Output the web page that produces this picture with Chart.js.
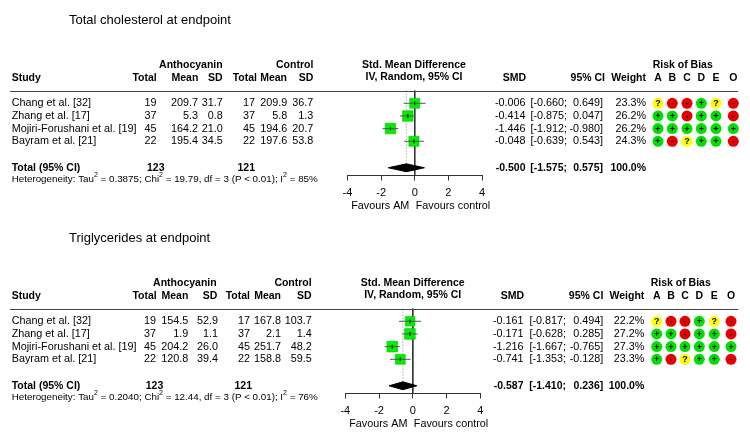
<!DOCTYPE html>
<html>
<head>
<meta charset="utf-8">
<script src="https://cdn.jsdelivr.net/npm/chart.js@4.4.1/dist/chart.umd.min.js"></script>
<style>
  html, body { margin: 0; padding: 0; background: #fff; }
  #wrap { position: relative; width: 750px; height: 447px; overflow: hidden; }
  canvas { position: absolute; left: 0; }
</style>
</head>
<body>
<div id="wrap">
  <canvas id="tc" width="750" height="218" style="top:0"></canvas>
  <canvas id="tg" width="750" height="229" style="top:218px"></canvas>
</div>
<script>
// shared
const studies = ['Chang et al. [32]', 'Zhang et al. [17]', 'Mojiri-Forushani et al. [19]', 'Bayram et al. [21]']
const robDomains = ['A', 'B', 'C', 'D', 'E', 'O']
const robJudgements = [
  ['?', '-', '-', '+', '?', '-'],
  ['+', '+', '-', '+', '+', '-'],
  ['+', '+', '+', '+', '+', '+'],
  ['+', '-', '?', '+', '+', '-']
]
const xTicks = [-4, -2, 0, 2, 4]

// Total cholesterol at endpoint
const tcAmN = [19, 37, 45, 22]
const tcAmMean = [209.7, 5.3, 164.2, 195.4]
const tcAmSd = [31.7, 0.8, 21.0, 34.5]
const tcCtrlN = [17, 37, 45, 22]
const tcCtrlMean = [209.9, 5.8, 194.6, 197.6]
const tcCtrlSd = [36.7, 1.3, 20.7, 53.8]
const tcSmd = [-0.006, -0.414, -1.446, -0.048]
const tcLow = [-0.660, -0.875, -1.912, -0.639]
const tcHigh = [0.649, 0.047, -0.980, 0.543]
const tcWeight = [23.3, 26.2, 26.2, 24.3]
const tcPooled = [-0.500, -1.575, 0.575]
const tcTotalN = [123, 121]
const tcHet = ['0.3875', '19.79', '3', '< 0.01', '85%']

// Triglycerides at endpoint
const tgAmN = [19, 37, 45, 22]
const tgAmMean = [154.5, 1.9, 204.2, 120.8]
const tgAmSd = [52.9, 1.1, 26.0, 39.4]
const tgCtrlN = [17, 37, 45, 22]
const tgCtrlMean = [167.8, 2.1, 251.7, 158.8]
const tgCtrlSd = [103.7, 1.4, 48.2, 59.5]
const tgSmd = [-0.161, -0.171, -1.216, -0.741]
const tgLow = [-0.817, -0.628, -1.667, -1.353]
const tgHigh = [0.494, 0.285, -0.765, -0.128]
const tgWeight = [22.2, 27.2, 27.3, 23.3]
const tgPooled = [-0.587, -1.410, 0.236]
const tgTotalN = [123, 121]
const tgHet = ['0.2040', '12.44', '3', '< 0.01', '76%']

const FONT = '"Liberation Sans", Arial, sans-serif'
Chart.defaults.font.family = FONT

// row positions (y scale units, reversed)
const ROW_TITLE = -5.57, ROW_HEAD1 = -2, ROW_HEAD2 = -1, ROW_TOTAL = 6.09, ROW_HET = 6.98
const Y_MIN = -7.15, Y_AXIS = 6.7
const AXIS_TOP = 175.5
const BOLD = 10.5
const REG = 10.8

const robColors = { '+': '#00e000', '-': '#e60000', '?': '#ffff00' }

function tablePlugin(d, L) {
  return {
    id: 'forestTable',
    afterDraw(chart) {
      const ctx = chart.ctx
      const xs = chart.scales.x
      const Y = r => chart.scales.y.getPixelForValue(r)
      const txt = (s, px, py, align, bold, size) => {
        ctx.font = (bold ? 'bold ' : '') + (size || (bold ? BOLD : REG)) + 'px ' + FONT
        ctx.textAlign = align || 'left'
        ctx.fillText(s, px, py)
      }
      ctx.save()
      ctx.fillStyle = '#000'
      ctx.textBaseline = 'middle'

      txt(d.title, 69, Y(ROW_TITLE), 'left', false, 13)

      // headers
      txt('Anthocyanin', L.anth, Y(ROW_HEAD1), 'right', true)
      txt('Control', L.ctrl, Y(ROW_HEAD1), 'right', true)
      txt('Std. Mean Difference', L.smdC, Y(ROW_HEAD1), 'center', true)
      txt('Risk of Bias', L.robC, Y(ROW_HEAD1), 'center', true)
      const h2 = Y(ROW_HEAD2)
      txt('Study', 11.7, h2, 'left', true)
      txt('Total', L.hn1, h2, 'right', true)
      txt('Mean', L.hm1, h2, 'right', true)
      txt('SD', L.hs1, h2, 'right', true)
      txt('Total', L.hn2, h2, 'right', true)
      txt('Mean', L.hm2, h2, 'right', true)
      txt('SD', L.hs2, h2, 'right', true)
      txt('IV, Random, 95% CI', L.smdC, Y(-1.1), 'center', true)
      txt('SMD', L.smdH, h2, 'right', true)
      txt('95% CI', L.ciH, h2, 'right', true)
      txt('Weight', L.wH, h2, 'right', true)
      robDomains.forEach((dm, j) => txt(dm, L.rob[j], h2, 'center', true))

      ctx.strokeStyle = '#444'
      ctx.lineWidth = 1
      ctx.beginPath()
      const ly = Math.round(Y(0)) + 0.5
      ctx.moveTo(10, ly)
      ctx.lineTo(L.lineR, ly)
      ctx.stroke()

      // study rows
      studies.forEach((s, i) => {
        const py = Y(i + 1)
        txt(s, 11.7, py)
        txt(String(d.amN[i]), L.n1, py, 'right')
        txt(d.amMean[i].toFixed(1), L.m1, py, 'right')
        txt(d.amSd[i].toFixed(1), L.s1, py, 'right')
        txt(String(d.ctrlN[i]), L.n2, py, 'right')
        txt(d.ctrlMean[i].toFixed(1), L.m2, py, 'right')
        txt(d.ctrlSd[i].toFixed(1), L.s2, py, 'right')
        txt(d.smd[i].toFixed(3), L.smd, py, 'right')
        txt('[' + d.low[i].toFixed(3) + ';', L.lo, py, 'right')
        txt(d.high[i].toFixed(3) + ']', L.hi, py, 'right')
        txt(d.weight[i].toFixed(1) + '%', L.w, py, 'right')
        robJudgements[i].forEach((j, k) => {
          ctx.beginPath()
          ctx.fillStyle = robColors[j]
          ctx.arc(L.rob[k], py, 5.5, 0, Math.PI * 2)
          ctx.fill()
          ctx.fillStyle = '#000'
          txt(j, L.rob[k], py + 0.5, 'center', true, 9)
        })
      })

      // total row
      const ty = Y(ROW_TOTAL)
      txt('Total (95% CI)', 11.7, ty, 'left', true)
      txt(String(d.totalN[0]), L.tot1, ty, 'right', true)
      txt(String(d.totalN[1]), L.tot2, ty, 'right', true)
      txt(d.pooled[0].toFixed(3), L.smd, ty, 'right', true)
      txt('[' + d.pooled[1].toFixed(3) + ';', L.lo, ty, 'right', true)
      txt(d.pooled[2].toFixed(3) + ']', L.hi, ty, 'right', true)
      txt('100.0%', L.w, ty, 'right', true)

      // heterogeneity
      const hy = Y(ROW_HET)
      let hx = 11.7
      const parts = [
        ['Heterogeneity: Tau', 0], ['2', 1], [' = ' + d.het[0] + '; Chi', 0], ['2', 1],
        [' = ' + d.het[1] + ', df = ' + d.het[2] + ' (P ' + d.het[3] + '); I', 0], ['2', 1],
        [' = ' + d.het[4], 0]
      ]
      ctx.textAlign = 'left'
      parts.forEach(([s, sup]) => {
        ctx.font = (sup ? 7 : 9.8) + 'px ' + FONT
        ctx.fillText(s, hx, sup ? hy - 3.5 : hy)
        hx += ctx.measureText(s).width
      })

      // favours labels
      const x0 = xs.getPixelForValue(0)
      const fy = chart.chartArea.bottom + 30.5
      txt('Favours AM', x0 - 5.4, fy, 'right')
      txt('Favours control', x0 + 1, fy, 'left')
      ctx.restore()
    }
  }
}

function makePanel(id, d, L) {
  const canvas = document.getElementById(id)
  const axisH = canvas.height - AXIS_TOP
  const est = d.pooled[0]
  const datasets = [
    { data: [{ x: 0, y: 0 }, { x: 0, y: Y_AXIS }], borderColor: '#333', borderWidth: 1, pointRadius: 0, order: 5 },
    { data: [{ x: est, y: 0 }, { x: est, y: ROW_TOTAL - 0.3 }], borderColor: '#888', borderDash: [1, 2], borderWidth: 1, pointRadius: 0, order: 5 },
    {
      data: d.smd.map((v, i) => ({ x: v, y: i + 1 })),
      showLine: false, pointStyle: 'rect',
      pointRadius: d.weight.map(w => Math.sqrt(w) * 1.45),
      backgroundColor: '#00ee00', borderColor: '#00c800', borderWidth: 0.6, order: 3
    },
    ...d.smd.map((v, i) => ({
      data: [{ x: d.low[i], y: i + 1 }, { x: d.high[i], y: i + 1 }],
      borderColor: '#555', borderWidth: 1, pointRadius: 0, order: 2
    })),
    {
      data: d.smd.map((v, i) => ({ x: v, y: i + 1 })),
      showLine: false, pointStyle: 'line', rotation: 90, pointRadius: 2,
      borderColor: '#000', borderWidth: 1, order: 1
    },
    {
      data: [
        { x: d.pooled[1], y: ROW_TOTAL }, { x: est, y: ROW_TOTAL - 0.31 },
        { x: d.pooled[2], y: ROW_TOTAL }, { x: est, y: ROW_TOTAL + 0.31 },
        { x: d.pooled[1], y: ROW_TOTAL }
      ],
      fill: 'shape', backgroundColor: '#000', borderColor: '#000', borderWidth: 1, pointRadius: 0, order: 1
    }
  ]

  return new Chart(canvas, {
    type: 'line',
    data: { datasets },
    options: {
      responsive: false,
      animation: false,
      events: [],
      layout: { autoPadding: false, padding: { left: L.axL, right: 750 - L.axR, top: 0, bottom: 0 } },
      scales: {
        x: {
          type: 'linear', min: -4, max: 4,
          afterFit: s => { s.height = axisH },
          afterBuildTicks: s => { s.ticks = xTicks.map(v => ({ value: v })) },
          grid: { drawOnChartArea: false, drawTicks: true, tickLength: 5, color: '#333' },
          border: { display: true, color: '#333', width: 1 },
          ticks: { font: { size: 11 }, color: '#000', padding: 6, maxRotation: 0, autoSkip: false, callback: v => String(v) }
        },
        y: { type: 'linear', min: Y_MIN, max: Y_AXIS, reverse: true, display: false }
      },
      plugins: { legend: { display: false }, tooltip: { enabled: false } }
    },
    plugins: [tablePlugin(d, L)]
  })
}

makePanel('tc', {
  title: 'Total cholesterol at endpoint',
  amN: tcAmN, amMean: tcAmMean, amSd: tcAmSd,
  ctrlN: tcCtrlN, ctrlMean: tcCtrlMean, ctrlSd: tcCtrlSd,
  smd: tcSmd, low: tcLow, high: tcHigh, weight: tcWeight,
  pooled: tcPooled, totalN: tcTotalN, het: tcHet
}, {
  n1: 156.5, m1: 198, s1: 222.7, n2: 255, m2: 287.3, s2: 313.3,
  hn1: 156.7, hm1: 198.3, hs1: 222.7, hn2: 257, hm2: 287, hs2: 313.3,
  anth: 222.7, ctrl: 313.3, tot1: 164.5, tot2: 255,
  smd: 525.5, lo: 567, hi: 603, w: 646, smdH: 526, ciH: 605, wH: 646,
  rob: [658, 672.3, 687, 701.3, 716, 733.3], robC: 682.7, smdC: 414,
  lineR: 738, axL: 347.5, axR: 482
})

makePanel('tg', {
  title: 'Triglycerides at endpoint',
  amN: tgAmN, amMean: tgAmMean, amSd: tgAmSd,
  ctrlN: tgCtrlN, ctrlMean: tgCtrlMean, ctrlSd: tgCtrlSd,
  smd: tgSmd, low: tgLow, high: tgHigh, weight: tgWeight,
  pooled: tgPooled, totalN: tgTotalN, het: tgHet
}, {
  n1: 156, m1: 188.3, s1: 218, n2: 250, m2: 281, s2: 311.7,
  hn1: 156.7, hm1: 188.3, hs1: 217.3, hn2: 250, hm2: 281, hs2: 311.7,
  anth: 216.7, ctrl: 311.7, tot1: 163.3, tot2: 252,
  smd: 523.5, lo: 566, hi: 603.3, w: 644.3, smdH: 524, ciH: 603.3, wH: 644.3,
  rob: [656.7, 671, 685, 699.3, 714.3, 731], robC: 680.7, smdC: 412.7,
  lineR: 738.3, axL: 345.3, axR: 480.3
})
</script>
</body>
</html>
